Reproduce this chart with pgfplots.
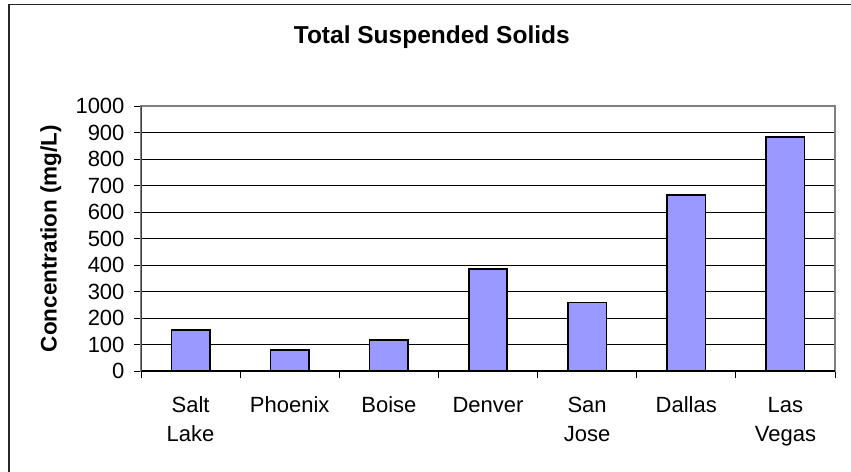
\documentclass[border=0pt]{standalone}
\usepackage{fontspec}
\setmainfont{Liberation Sans}
\usepackage{pgfplots}
\pgfplotsset{compat=1.18}
\definecolor{barfill}{HTML}{9999FF}
\begin{document}
\begin{tikzpicture}[x=1pt,y=1pt]
\useasboundingbox (0,0) rectangle (851,471);
% frame around the chart area
\draw[line width=1.3pt, black!85] (9,-10) -- (9,466.3) -- (870,466.3);
\begin{axis}[
  at={(141pt,100pt)}, anchor=south west,
  scale only axis, width=694pt, height=265pt,
  xmin=0, xmax=7, ymin=0, ymax=1000,
  ybar, bar width=38.5pt,
  xtick={0,...,7}, x tick label as interval,
  xticklabels={{\strut Salt\\Lake},{\strut Phoenix},{\strut Boise},{\strut Denver},
    {\strut San\\Jose},{\strut Dallas},{\strut Las\\Vegas}},
  ytick={0,100,...,1000},
  xtick pos=bottom, ytick pos=left,
  tick align=outside, major tick length=7pt,
  tick style={black, line width=0.8pt},
  ymajorgrids, grid style={black, line width=0.8pt},
  axis line style={draw=gray, line width=1.2pt},
  tick label style={font=\fontsize{22}{29}\selectfont},
  xticklabel style={align=center, yshift=-11pt},
  yticklabel style={xshift=-6pt},
  /pgf/number format/assume math mode=true,
  /pgf/number format/1000 sep={},
  ylabel={Concentration (mg/L)},
  ylabel style={font=\bfseries\fontsize{22.5}{26}\selectfont,
    at={(axis description cs:-0.130,0.5)}, anchor=center},
  title={Total Suspended Solids},
  title style={font=\bfseries\fontsize{24.5}{28}\selectfont,
    at={(axis description cs:0.419,1.2366)}, anchor=base, yshift=-6pt},
]
\addplot[fill=barfill, draw=black, line width=1.6pt]
  coordinates {(0.5,154) (1.5,79) (2.5,116) (3.5,385) (4.5,258) (5.5,664) (6.5,884)};
\draw[black, line width=1.2pt] (rel axis cs:0,0) -- (rel axis cs:1,0);
\draw[black!75, line width=1.2pt] (rel axis cs:0,0) -- (rel axis cs:0,1);
\end{axis}
\end{tikzpicture}
\end{document}
